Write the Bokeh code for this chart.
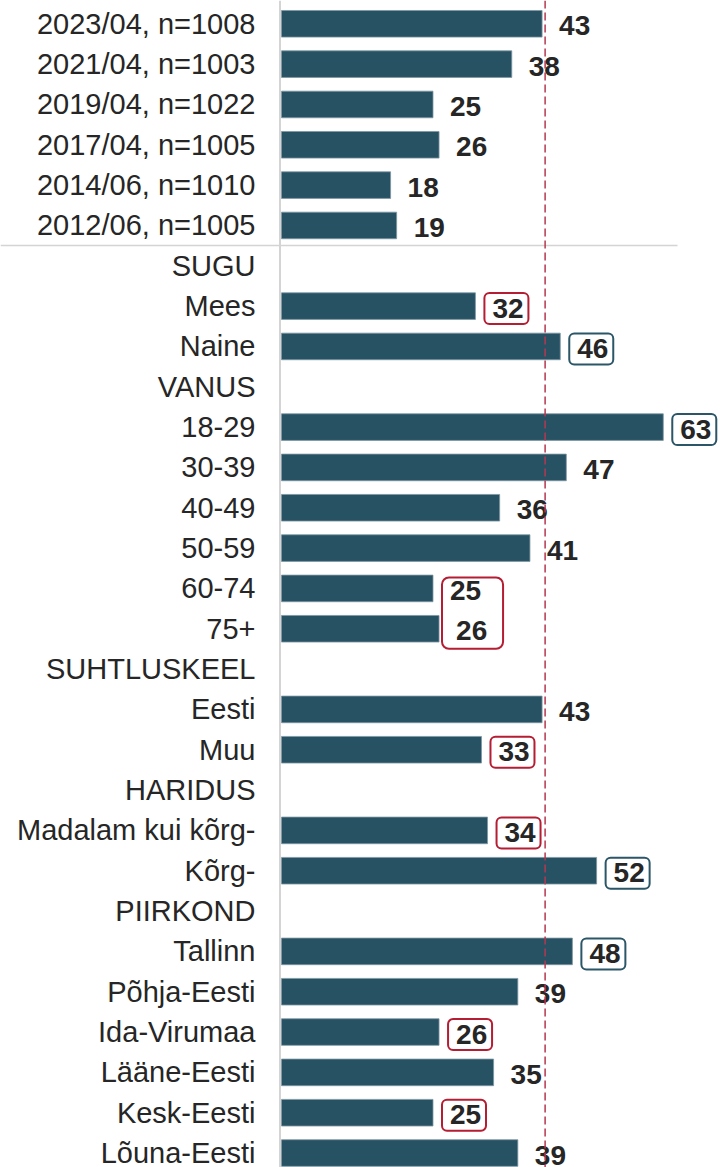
from bokeh.plotting import figure
from bokeh.models import Range1d, Span
from bokeh.core.properties import value
from bokeh.embed import file_html
from bokeh.resources import INLINE

categories = [
    "2023/04, n=1008", "2021/04, n=1003", "2019/04, n=1022", "2017/04, n=1005",
    "2014/06, n=1010", "2012/06, n=1005",
    "SUGU", "Mees", "Naine",
    "VANUS", "18-29", "30-39", "40-49", "50-59", "60-74", "75+",
    "SUHTLUSKEEL", "Eesti", "Muu",
    "HARIDUS", "Madalam kui kõrg-", "Kõrg-",
    "PIIRKOND", "Tallinn", "Põhja-Eesti", "Ida-Virumaa", "Lääne-Eesti",
    "Kesk-Eesti", "Lõuna-Eesti",
]
values = [43, 38, 25, 26, 18, 19,
          None, 32, 46,
          None, 63, 47, 36, 41, 25, 26,
          None, 43, 33,
          None, 34, 52,
          None, 48, 39, 26, 35, 25, 39]
# significance markers: "low" (red box), "high" (teal box), "low_group" (shared red box)
flags = ["", "", "", "", "", "",
         "", "low", "high",
         "", "high", "", "", "", "low_group", "low_group",
         "", "", "low",
         "", "low", "high",
         "", "high", "", "low", "", "low", ""]
reference_value = 43.5

BAR = "#275264"
RED = "#b51d33"
TEAL = "#2b5668"
TXT = "#262626"
GRAY = "#d4d4d4"

PX_X = 6.06   # pixels per value unit
PX_Y = 40.33  # pixels per row

rows = list(range(len(categories)))
bar_rows = [r for r, v in zip(rows, values) if v is not None]
bar_vals = [v for v in values if v is not None]

W, H = 720, 1167
x0_px = 281
y0_px = 23.3
p = figure(width=W, height=H,
           x_range=Range1d(-x0_px / PX_X, (W - x0_px) / PX_X),
           y_range=Range1d((H - y0_px) / PX_Y, -y0_px / PX_Y),
           output_backend="svg", toolbar_location=None, min_border=0,
           x_axis_location=None, y_axis_location=None)
p.grid.visible = False
p.outline_line_color = None
p.background_fill_color = "white"
p.border_fill_color = "white"

# separator between time series and breakdowns
p.segment(x0=[-x0_px / PX_X], x1=[(677 - 281) / PX_X], y0=[5.5], y1=[5.5],
          line_color=GRAY, line_width=1.5)

p.hbar(y=bar_rows, left=0, right=bar_vals, height=0.66,
       fill_color=BAR, line_color="#7d97a2", line_width=0.8)

# category labels
p.text(x=[0] * len(categories), y=rows, text=categories,
       x_offset=-26, y_offset=0, text_align="right", text_baseline="middle",
       text_font=value("Liberation Sans"), text_font_size="29px",
       text_color=TXT)

# value labels
p.text(x=bar_vals, y=bar_rows, text=[str(v) for v in bar_vals],
       x_offset=17, y_offset=2, text_align="left", text_baseline="middle",
       text_font=value("Liberation Sans"), text_font_style="bold",
       text_font_size="28px", text_color=TXT)

# single boxes
for kind, col in (("low", RED), ("high", TEAL)):
    ys = [r for r, f in zip(rows, flags) if f == kind]
    vs = [values[r] for r in ys]
    p.quad(left=[v + 9 / PX_X for v in vs], right=[v + 53 / PX_X for v in vs],
           top=[y - 13 / PX_Y for y in ys], bottom=[y + 18 / PX_Y for y in ys],
           fill_color=None, line_color=col, line_width=2, border_radius=5)

# grouped box
grp = [r for r, f in zip(rows, flags) if f == "low_group"]
gv = [values[r] for r in grp]
p.quad(left=[min(gv) + 9 / PX_X], right=[max(gv) + 64 / PX_X],
       top=[grp[0] - 11 / PX_Y], bottom=[grp[-1] + 20 / PX_Y],
       fill_color=None, line_color=RED, line_width=2, border_radius=7)

p.add_layout(Span(location=-1.5 / PX_X, dimension="height",
                  line_color=GRAY, line_width=2))
p.add_layout(Span(location=reference_value, dimension="height",
                  line_color="#b5374f", line_width=1.5, line_dash="8 4"))

open("out.html", "w").write(file_html(p, INLINE))
